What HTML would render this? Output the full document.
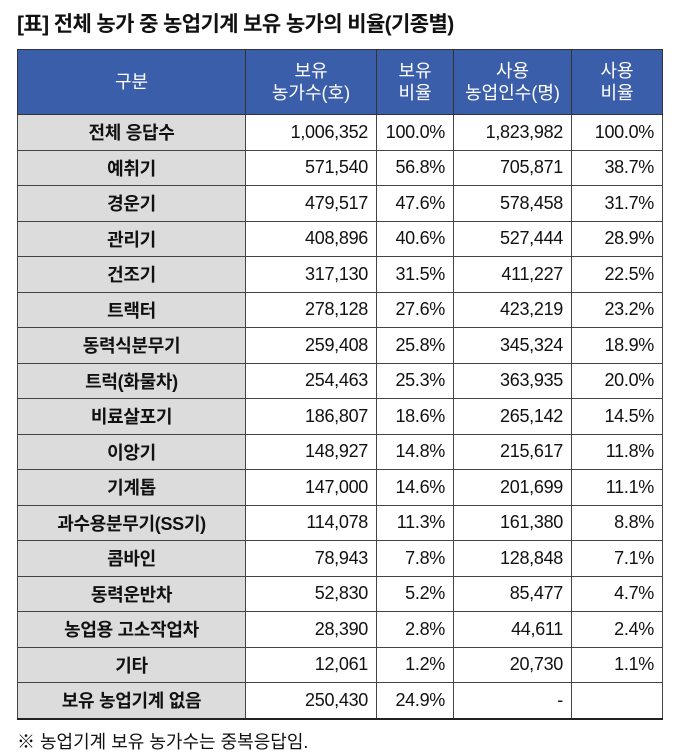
<!DOCTYPE html>
<html><head><meta charset="utf-8"><style>
body{margin:0;width:680px;height:756px;background:#fff;font-family:"Liberation Sans","Noto Sans CJK KR",sans-serif;color:#111;position:relative;overflow:hidden}
h1{position:absolute;left:17px;top:8px;margin:0;font-size:21px;font-weight:bold;letter-spacing:-0.6px}
table{position:absolute;left:17px;top:49px;border-collapse:collapse;width:645px;table-layout:fixed}
th{background:#3b5eab;color:#fff;font-weight:normal;font-size:18px;line-height:22px;height:64px;border:1.5px solid #333;padding:0}
td{height:34.5px;border:1px solid #444;font-size:18px;text-align:right;padding:0 8px 0 0;letter-spacing:-0.3px}
td.l{background:#dcdcdc;text-align:center;font-weight:bold;padding:0}
tr:last-child td{border-bottom:2px solid #222}
.note{position:absolute;left:17px;top:728px;font-size:18px}
</style></head><body>
<h1>[표] 전체 농가 중 농업기계 보유 농가의 비율(기종별)</h1>
<table>
<colgroup><col style="width:228px"><col style="width:131px"><col style="width:77px"><col style="width:118px"><col style="width:91px"></colgroup>
<thead><tr><th>구분</th><th>보유<br>농가수(호)</th><th>보유<br>비율</th><th>사용<br>농업인수(명)</th><th>사용<br>비율</th></tr></thead>
<tbody id="tb"></tbody></table>
<div class="note">※ 농업기계 보유 농가수는 중복응답임.</div>
<script>
const labels=["전체 응답수","예취기","경운기","관리기","건조기","트랙터","동력식분무기","트럭(화물차)","비료살포기","이앙기","기계톱","과수용분무기(SS기)","콤바인","동력운반차","농업용 고소작업차","기타","보유 농업기계 없음"];
const owned=["1,006,352","571,540","479,517","408,896","317,130","278,128","259,408","254,463","186,807","148,927","147,000","114,078","78,943","52,830","28,390","12,061","250,430"];
const ownedPct=["100.0%","56.8%","47.6%","40.6%","31.5%","27.6%","25.8%","25.3%","18.6%","14.8%","14.6%","11.3%","7.8%","5.2%","2.8%","1.2%","24.9%"];
const users=["1,823,982","705,871","578,458","527,444","411,227","423,219","345,324","363,935","265,142","215,617","201,699","161,380","128,848","85,477","44,611","20,730","-"];
const usersPct=["100.0%","38.7%","31.7%","28.9%","22.5%","23.2%","18.9%","20.0%","14.5%","11.8%","11.1%","8.8%","7.1%","4.7%","2.4%","1.1%",""];
const tb=document.getElementById('tb');
labels.forEach((l,i)=>{
const tr=document.createElement('tr');


[l,owned[i],ownedPct[i],users[i],usersPct[i]].forEach((v,j)=>{
const td=document.createElement('td');
if(j===0)td.className='l';
td.textContent=v;


tr.appendChild(td);});
tb.appendChild(tr);});
</script>
</body></html>
